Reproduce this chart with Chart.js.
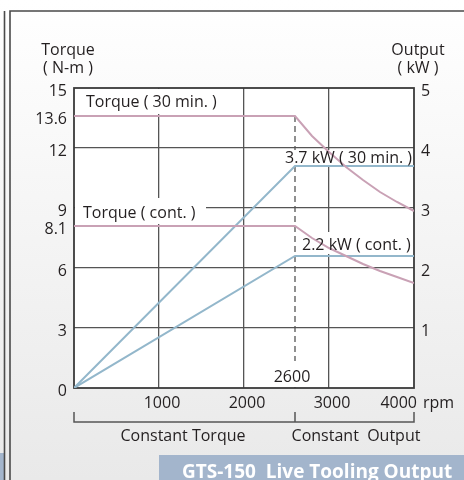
<!DOCTYPE html>
<html>
<head>
<meta charset="utf-8">
<script src="https://cdn.jsdelivr.net/npm/chart.js@4.4.1/dist/chart.umd.min.js"></script>
<style>
  html, body { margin: 0; padding: 0; background: #fff; }
  canvas { display: block; }
</style>
</head>
<body>
<canvas id="chart" width="464" height="480"></canvas>
<script>
// axis ticks
const rpmTicks = [0, 1000, 2000, 3000, 4000];
const torqueTicks = [0, 3, 6, 8.1, 9, 12, 13.6, 15];
const outputTicks = [0, 1, 2, 3, 4, 5];
const kneeRpm = 2600;

// torque curves (N-m)
const torqueRpm = [0, 2600, 2800, 3000, 3200, 3400, 3600, 3800, 4000];
const torque30 = [13.6, 13.6, 12.6, 11.8, 11.05, 10.4, 9.8, 9.3, 8.85];
const torqueCont = [8.1, 8.1, 7.5, 7.0, 6.6, 6.2, 5.85, 5.55, 5.25];

// output curves (kW)
const outputRpm = [0, 2600, 4000];
const output30 = [0, 3.7, 3.7];
const outputCont = [0, 2.2, 2.2];

const FONT = 'Open Sans';
const TEXT = '#231f20';
const GRID = '#555555';
const PINK = '#c9a1b5';
const BLUE = '#93b7cb';

Chart.defaults.font.family = FONT;
Chart.defaults.font.size = 16;
Chart.defaults.color = TEXT;

const pts = (xs, ys) => xs.map((x, i) => ({ x, y: ys[i] }));

const backdrop = {
    id: 'backdrop',
    beforeDraw(chart) {
        const { ctx, chartArea: a } = chart;
        ctx.save();
        const g = ctx.createLinearGradient(0, 0, 0, 480);
        g.addColorStop(0, '#ffffff');
        g.addColorStop(1, '#e9e9e9');
        ctx.fillStyle = g;
        ctx.fillRect(0, 0, 464, 480);

        // neighbouring panel edge
        ctx.fillStyle = '#a3b5cc';
        ctx.fillRect(0, 453, 4, 27);
        ctx.strokeStyle = '#4a4a4a';
        ctx.lineWidth = 1.6;
        ctx.beginPath();
        ctx.moveTo(4.5, 11); ctx.lineTo(4.5, 480);
        ctx.moveTo(10, 480); ctx.lineTo(10, 11); ctx.lineTo(464, 11);
        ctx.stroke();

        ctx.fillStyle = '#ffffff';
        ctx.fillRect(a.left, a.top, a.right - a.left, a.bottom - a.top);

        // title box
        ctx.fillStyle = '#a3b5cc';
        ctx.fillRect(159, 455, 305, 25);
        ctx.fillStyle = '#ffffff';
        ctx.font = `bold 19px "${FONT}"`;
        ctx.textAlign = 'left';
        ctx.textBaseline = 'alphabetic';
        ctx.fillText('GTS-150  Live Tooling Output', 182, 478, 280);
        ctx.restore();
    },
    beforeDatasetsDraw(chart) {
        const { ctx, chartArea: a, scales } = chart;
        const kx = scales.x.getPixelForValue(kneeRpm);
        ctx.save();
        ctx.strokeStyle = GRID;
        ctx.lineWidth = 1.3;
        ctx.setLineDash([6, 4]);
        ctx.beginPath();
        ctx.moveTo(kx, scales.y.getPixelForValue(torque30[1]));
        ctx.lineTo(kx, a.bottom);
        ctx.stroke();
        ctx.setLineDash([]);

        // label backgrounds hide the grid
        ctx.fillStyle = '#ffffff';
        [[75, 89, 167, 25], [75, 198, 131, 26], [283, 150, 130, 17],
         [300, 232, 113, 22], [272, 361, 41, 26]].forEach(r => ctx.fillRect(...r));

        ctx.strokeStyle = '#3a3a3a';
        ctx.lineWidth = 1.8;
        ctx.strokeRect(a.left, a.top, a.right - a.left, a.bottom - a.top);
        ctx.restore();
    },
    afterDraw(chart) {
        const { ctx, scales } = chart;
        ctx.save();
        ctx.fillStyle = TEXT;
        ctx.font = `16px "${FONT}"`;
        ctx.textBaseline = 'alphabetic';

        ctx.textAlign = 'left';
        ctx.fillText('Torque ( 30 min. )', 86, 107);
        ctx.fillText('Torque ( cont. )', 83, 218);
        ctx.fillText('3.7 kW ( 30 min. )', 285, 163);
        ctx.fillText('2.2 kW ( cont. )', 302, 250);
        ctx.fillText('rpm', 423, 408);

        ctx.textAlign = 'center';
        ctx.fillText(String(kneeRpm), 292, 382);
        ctx.fillText('Torque', 68, 55);
        ctx.fillText('( N-m )', 68, 73);
        ctx.fillText('Output', 418, 55);
        ctx.fillText('( kW )', 418, 73);
        ctx.fillText('Constant Torque', 183, 441);
        ctx.fillText('Constant  Output', 356, 441);

        // range bracket
        const x0 = scales.x.getPixelForValue(0);
        const xk = scales.x.getPixelForValue(kneeRpm);
        const x1 = scales.x.getPixelForValue(4000);
        ctx.strokeStyle = GRID;
        ctx.lineWidth = 1.5;
        ctx.beginPath();
        ctx.moveTo(x0, 412); ctx.lineTo(x0, 422); ctx.lineTo(x1, 422); ctx.lineTo(x1, 412);
        ctx.moveTo(xk, 412); ctx.lineTo(xk, 422);
        ctx.stroke();
        ctx.restore();
    }
};

new Chart(document.getElementById('chart'), {
    type: 'line',
    data: {
        datasets: [
            { data: pts(torqueRpm, torque30), borderColor: PINK, yAxisID: 'y' },
            { data: pts(torqueRpm, torqueCont), borderColor: PINK, yAxisID: 'y' },
            { data: pts(outputRpm, output30), borderColor: BLUE, yAxisID: 'y2' },
            { data: pts(outputRpm, outputCont), borderColor: BLUE, yAxisID: 'y2' },
        ]
    },
    options: {
        responsive: false,
        animation: false,
        layout: { padding: { top: 88, left: 0, right: 0, bottom: 0 } },
        plugins: { legend: { display: false }, tooltip: { enabled: false } },
        elements: { point: { radius: 0 }, line: { borderWidth: 2, tension: 0 } },
        scales: {
            x: {
                type: 'linear', min: 0, max: 4000,
                afterBuildTicks: s => { s.ticks = rpmTicks.map(v => ({ value: v })); },
                afterFit: s => { s.height = 92; },
                grid: {
                    color: c => (c.tick && (c.tick.value === 0 || c.tick.value === 4000)) ? 'transparent' : GRID,
                    lineWidth: 1.3, drawTicks: false
                },
                border: { display: false },
                ticks: { padding: 6, align: 'inner', labelOffset: 3, callback: v => v === 0 ? '' : String(v) }
            },
            y: {
                position: 'left', min: 0, max: 15,
                afterBuildTicks: s => { s.ticks = torqueTicks.map(v => ({ value: v })); },
                afterFit: s => { s.width = 74; },
                grid: {
                    color: c => (c.tick && [3, 6, 9, 12].includes(c.tick.value)) ? GRID : 'transparent',
                    lineWidth: 1.3, drawTicks: false
                },
                border: { display: false },
                ticks: { padding: 7, labelOffset: 3, callback: v => String(v) }
            },
            y2: {
                position: 'right', min: 0, max: 5,
                afterBuildTicks: s => { s.ticks = outputTicks.map(v => ({ value: v })); },
                afterFit: s => { s.width = 50; },
                grid: { display: false, drawTicks: false },
                border: { display: false },
                ticks: { padding: 7, labelOffset: 3, callback: v => v === 0 ? '' : String(v) }
            }
        }
    },
    plugins: [backdrop]
});
</script>
</body>
</html>
